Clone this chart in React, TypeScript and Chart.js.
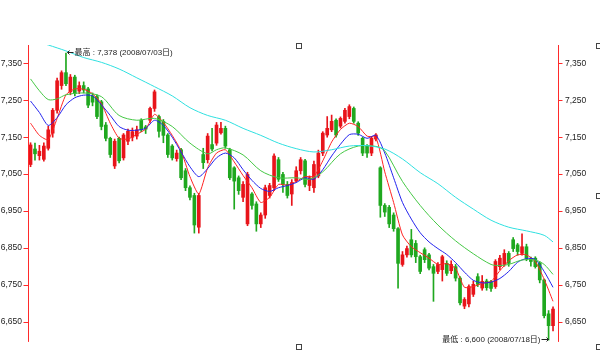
import { useEffect, useRef } from 'react';
import { Chart, registerables } from 'chart.js';

Chart.register(...registerables);

// ---- candle data (30-minute bars) ----
const opens = [
  7076, 7118, 7100, 7090, 7120, 7161, 7223, 7290, 7325, 7273,
  7313, 7275, 7290, 7281, 7262, 7260, 7246, 7183, 7147, 7072,
  7147, 7094, 7139, 7150, 7153, 7196, 7178, 7196, 7228, 7206,
  7193, 7156, 7126, 7092, 7116, 7059, 7013, 6992, 6906, 7103,
  7089, 7130, 7134, 7162, 7174, 7116, 7067, 7040, 6987, 6915,
  6996, 6969, 6915, 6939, 6992, 7013, 7089, 7049, 7022, 6996,
  7032, 7059, 7086, 7019, 7013, 7045, 7107, 7156, 7170, 7196,
  7180, 7193, 7206, 7228, 7188, 7147, 7126, 7107, 7145, 7067,
  6965, 6960, 6939, 6902, 6805, 6831, 6872, 6862, 6826, 6845,
  6831, 6799, 6786, 6791, 6808, 6788, 6799, 6768, 6692, 6698,
  6724, 6772, 6741, 6760, 6758, 6745, 6799, 6805, 6835, 6872,
  6858, 6835, 6853, 6820, 6822, 6808, 6763, 6671, 6639,
];
const highs = [
  7135, 7134, 7128, 7135, 7180, 7228, 7310, 7330, 7378, 7320,
  7318, 7300, 7300, 7285, 7270, 7265, 7250, 7190, 7150, 7145,
  7150, 7160, 7172, 7175, 7180, 7200, 7182, 7232, 7278, 7210,
  7198, 7160, 7130, 7115, 7120, 7065, 7018, 6998, 6998, 7120,
  7160, 7174, 7190, 7190, 7180, 7120, 7070, 7045, 7030, 7055,
  7000, 6975, 6945, 7020, 7025, 7105, 7095, 7055, 7030, 7035,
  7070, 7095, 7090, 7045, 7085, 7115, 7165, 7206, 7210, 7200,
  7205, 7228, 7238, 7232, 7192, 7150, 7130, 7152, 7160, 7070,
  6970, 6965, 6945, 6905, 6840, 6855, 6900, 6870, 6830, 6850,
  6835, 6805, 6810, 6830, 6815, 6815, 6805, 6772, 6715, 6750,
  6760, 6780, 6775, 6765, 6762, 6818, 6830, 6845, 6840, 6878,
  6862, 6888, 6860, 6825, 6826, 6812, 6765, 6680, 6690,
];
const lows = [
  7070, 7088, 7088, 7085, 7115, 7150, 7215, 7280, 7290, 7265,
  7262, 7268, 7270, 7230, 7235, 7200, 7170, 7140, 7095, 7065,
  7080, 7088, 7130, 7140, 7145, 7165, 7160, 7190, 7220, 7150,
  7135, 7095, 7088, 7085, 7035, 7005, 6980, 6890, 6890, 7065,
  7080, 7113, 7128, 7158, 7120, 7035, 6955, 6995, 6975, 6910,
  6955, 6895, 6905, 6930, 6985, 7005, 7030, 7000, 6985, 6965,
  7028, 7050, 7015, 7005, 7000, 7040, 7100, 7150, 7165, 7150,
  7175, 7188, 7200, 7188, 7155, 7100, 7095, 7100, 7140, 6933,
  6935, 6905, 6895, 6741, 6800, 6825, 6825, 6810, 6780, 6810,
  6790, 6705, 6780, 6760, 6775, 6780, 6760, 6695, 6685, 6690,
  6718, 6745, 6735, 6735, 6732, 6740, 6790, 6800, 6800, 6840,
  6830, 6830, 6815, 6800, 6795, 6755, 6660, 6600, 6625,
];
const closes = [
  7129, 7105, 7112, 7126, 7170, 7223, 7303, 7325, 7295, 7313,
  7268, 7290, 7278, 7237, 7245, 7206, 7179, 7147, 7103, 7139,
  7086, 7156, 7166, 7165, 7170, 7170, 7172, 7228, 7273, 7166,
  7155, 7103, 7094, 7107, 7040, 7013, 6987, 6912, 6992, 7081,
  7153, 7118, 7183, 7174, 7126, 7040, 7031, 7005, 7022, 7049,
  6965, 6915, 6939, 7013, 7019, 7099, 7036, 7022, 6992, 7027,
  7059, 7089, 7022, 7040, 7076, 7107, 7161, 7174, 7193, 7156,
  7201, 7223, 7233, 7193, 7161, 7107, 7107, 7147, 7156, 6965,
  6947, 6915, 6902, 6808, 6831, 6848, 6831, 6826, 6786, 6818,
  6795, 6781, 6805, 6826, 6781, 6805, 6768, 6701, 6710, 6745,
  6751, 6751, 6759, 6742, 6740, 6813, 6822, 6835, 6808, 6848,
  6840, 6853, 6822, 6813, 6799, 6763, 6666, 6639, 6684,
];

// ---- moving averages ----
const maRedX = [
  0, 2, 4, 6, 8, 10, 12, 14, 16, 18, 20, 22, 24, 26, 28, 30, 32, 34, 36, 38,
  40, 42, 44, 46, 48, 50, 52, 54, 56, 58, 60, 62, 64, 66, 68, 70, 72, 74, 76, 78,
  80, 82, 84, 86, 88, 90, 92, 94, 96, 98, 100, 102, 104, 106, 108, 110, 112, 114, 116, 118,
];
const maRedY = [
  7188, 7155, 7143, 7201, 7265, 7281, 7280, 7268, 7241, 7188, 7147, 7145, 7158, 7172, 7212, 7190, 7155, 7113, 7043, 6996,
  7067, 7107, 7116, 7083, 7046, 7013, 6973, 6987, 7022, 7020, 7030, 7043, 7044, 7086, 7137, 7171, 7188, 7179, 7153, 7149,
  7056, 6973, 6885, 6853, 6837, 6822, 6805, 6807, 6794, 6743, 6745, 6754, 6759, 6788, 6815, 6831, 6831, 6813, 6765, 6705,
];
const maBlueX = maRedX;
const maBlueY = [
  7248, 7217, 7182, 7203, 7238, 7257, 7264, 7262, 7238, 7209, 7179, 7169, 7169, 7174, 7196, 7182, 7150, 7110, 7070, 7043,
  7065, 7094, 7107, 7094, 7062, 7033, 7011, 7003, 7013, 7019, 7027, 7040, 7036, 7062, 7099, 7131, 7157, 7158, 7147, 7155,
  7107, 7040, 6973, 6928, 6891, 6866, 6848, 6832, 6810, 6784, 6762, 6755, 6757, 6767, 6786, 6811, 6821, 6819, 6786, 6743,
];
const maGreenX = [
  0, 2, 4, 6, 8, 12, 16, 20, 24, 28, 32, 36, 40, 42, 44, 48, 52, 56, 60, 63,
  66, 70, 74, 78, 80, 84, 88, 92, 96, 100, 104, 106, 108, 111, 114, 116, 118,
];
const maGreenY = [
  7308, 7276, 7252, 7254, 7265, 7270, 7260, 7209, 7196, 7201, 7179, 7134, 7105, 7116, 7121, 7102, 7059, 7040, 7040, 7036,
  7056, 7105, 7126, 7125, 7113, 7030, 6965, 6912, 6869, 6834, 6805, 6802, 6805, 6817, 6817, 6805, 6778,
];
const maCyanX = [
  0, 4, 8, 12, 16, 20, 24, 28, 32, 36, 40, 44, 48, 52, 56, 60, 64, 68, 72, 76,
  80, 84, 88, 92, 96, 100, 104, 108, 112, 116, 118,
];
const maCyanY = [
  7415, 7400, 7384, 7366, 7353, 7335, 7311, 7287, 7262, 7230, 7209, 7196, 7174, 7155, 7134, 7119, 7110, 7116, 7126, 7127,
  7118, 7091, 7054, 7024, 6987, 6955, 6925, 6906, 6896, 6884, 6866,
];

const tickValues = [6650, 6750, 6850, 6950, 7050, 7150, 7250, 7350];
const Y_MIN = 6595;
const Y_MAX = 7400;

const HIGH_LABEL = '最高 : 7,378 (2008/07/03日)';
const LOW_LABEL = '最低 : 6,600 (2008/07/18日)';

const FONT = '"Liberation Sans", Arial, "Noto Sans CJK JP", sans-serif';
const AXIS_RED = '#ff2a2a';
const UP = '#e8141a';
const DOWN = '#1fa81f';

const axisPlugin = {
  id: 'redAxes',
  afterDraw(chart: any) {
    const ctx = chart.ctx;
    const { top, bottom } = chart.chartArea;
    ctx.save();
    ctx.strokeStyle = AXIS_RED;
    ctx.lineWidth = 1;
    [
      { s: chart.scales.y, dir: -1, len: 5 },
      { s: chart.scales.y2, dir: 1, len: 4 },
    ].forEach(({ s, dir, len }) => {
      const x = (dir < 0 ? Math.round(s.right) : Math.round(s.left)) - 0.5;
      ctx.beginPath();
      ctx.moveTo(x, top);
      ctx.lineTo(x, bottom);
      tickValues.forEach((v) => {
        const y = Math.round(s.getPixelForValue(v)) + 0.5;
        ctx.moveTo(x, y);
        ctx.lineTo(x + dir * len, y);
      });
      ctx.stroke();
    });
    ctx.restore();
  },
};

const annotPlugin = {
  id: 'annot',
  afterDatasetsDraw(chart: any) {
    const ctx = chart.ctx;
    const xs = chart.scales.x;
    const ys = chart.scales.y;
    const hi = highs.indexOf(Math.max(...highs));
    const lo = lows.indexOf(Math.min(...lows));
    ctx.save();
    ctx.strokeStyle = '#222';
    ctx.fillStyle = '#222';
    ctx.lineWidth = 1;
    ctx.font = '8px ' + FONT;
    ctx.textBaseline = 'middle';
    // high
    const hx = Math.round(xs.getPixelForValue(hi)) + 0.5;
    const hy = Math.round(ys.getPixelForValue(highs[hi])) - 0.5;
    ctx.beginPath();
    ctx.moveTo(hx + 1, hy);
    ctx.lineTo(hx + 7, hy);
    ctx.moveTo(hx + 3, hy - 2);
    ctx.lineTo(hx + 1, hy);
    ctx.lineTo(hx + 3, hy + 2);
    ctx.stroke();
    ctx.textAlign = 'left';
    ctx.fillText(HIGH_LABEL, hx + 8, hy);
    // low
    const lx = Math.round(xs.getPixelForValue(lo)) + 0.5;
    const ly = Math.round(ys.getPixelForValue(lows[lo])) - 0.5;
    ctx.beginPath();
    ctx.moveTo(lx - 8, ly);
    ctx.lineTo(lx - 1, ly);
    ctx.moveTo(lx - 3, ly - 2);
    ctx.lineTo(lx - 1, ly);
    ctx.lineTo(lx - 3, ly + 2);
    ctx.stroke();
    ctx.textAlign = 'right';
    ctx.fillText(LOW_LABEL, lx - 9, ly);
    ctx.restore();
  },
  afterDraw(chart: any) {
    const ctx = chart.ctx;
    ctx.save();
    ctx.strokeStyle = '#444';
    ctx.fillStyle = '#fff';
    ctx.lineWidth = 1;
    const handles = [
      [296.5, 43.5], [596.5, 43.5], [596.5, 193.5], [296.5, 344.5], [596.5, 344.5],
    ];
    handles.forEach(([x, y]) => {
      ctx.fillRect(x, y, 5, 5);
      ctx.strokeRect(x, y, 5, 5);
    });
    ctx.restore();
  },
};

function yAxis(pos: 'left' | 'right', width: number, tickLen: number) {
  return {
    type: 'linear',
    position: pos,
    min: Y_MIN,
    max: Y_MAX,
    afterBuildTicks: (s: any) => {
      s.ticks = tickValues.map((v) => ({ value: v }));
    },
    afterFit: (s: any) => {
      s.width = width;
    },
    border: { display: false },
    grid: { display: false, drawOnChartArea: false, drawTicks: false },
    ticks: {
      color: '#222',
      font: { family: FONT, size: 8.5 },
      padding: tickLen + 2,
      autoSkip: false,
      callback: (v: any) => Number(v).toLocaleString('en-US'),
    },
  };
}

export default function App() {
  const ref = useRef<HTMLCanvasElement>(null);
  useEffect(() => {
    document.body.style.margin = '0';
    const canvas = ref.current!;
    const idx = opens.map((_, i) => i);
    const colors = idx.map((i) => (closes[i] >= opens[i] ? UP : DOWN));
    const bodies = idx.map((i) => ({ x: i, y: [opens[i], closes[i]] }));
    const wicks = idx.map((i) => ({ x: i, y: [lows[i], highs[i]] }));
    const pts = (xs: number[], ys: number[]) => xs.map((x, k) => ({ x, y: ys[k] }));
    const lineDs = (xs: number[], ys: number[], color: string, tension: number) => ({
      type: 'line',
      data: pts(xs, ys),
      borderColor: color,
      borderWidth: 1,
      pointRadius: 0,
      tension,
      fill: false,
      order: 0,
      yAxisID: 'y',
    });
    const chart = new Chart(canvas, {
      type: 'bar',
      data: {
        datasets: [
          lineDs(maCyanX, maCyanY, '#2fe0e0', 0.3),
          lineDs(maGreenX, maGreenY, '#45c845', 0.3),
          lineDs(maBlueX, maBlueY, '#2222ee', 0.25),
          lineDs(maRedX, maRedY, '#ff2222', 0.2),
          {
            type: 'bar',
            data: wicks,
            backgroundColor: colors,
            barThickness: 1,
            grouped: false,
            order: 2,
            yAxisID: 'y',
          },
          {
            type: 'bar',
            data: bodies,
            backgroundColor: colors,
            barThickness: 3,
            minBarLength: 1,
            grouped: false,
            order: 1,
            yAxisID: 'y',
          },
        ] as any,
      },
      options: {
        responsive: false,
        animation: false,
        events: [],
        layout: { padding: { top: 45, bottom: 8, left: 0, right: 0 } },
        plugins: { legend: { display: false }, tooltip: { enabled: false } },
        scales: {
          x: {
            type: 'linear',
            min: -0.35,
            max: 119.35,
            offset: false,
            grid: { offset: false },
            display: false,
          },
          y: yAxis('left', 29, 5),
          y2: yAxis('right', 41, 4),
        } as any,
      },
      plugins: [axisPlugin, annotPlugin],
    });
    return () => chart.destroy();
  }, []);
  return <canvas ref={ref} width={600} height={354} style={{ display: 'block' }} />;
}
